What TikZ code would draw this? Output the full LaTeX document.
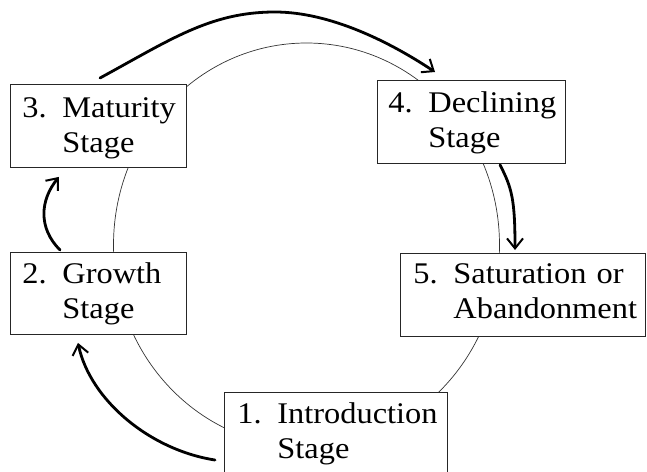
\documentclass[tikz,border=0pt]{standalone}
\usepackage{fontspec}
\setmainfont{Liberation Serif}[FakeStretch=1.08]
\usetikzlibrary{arrows.meta,calc}

\tikzset{
  stagebox/.style={draw=black!85, line width=0.9pt, fill=white, anchor=north west,
    inner xsep=12pt, inner ysep=0pt, align=left,
    text height=32pt, text depth=51pt, minimum height=83pt,
    font=\fontsize{30}{35}\selectfont},
  flow/.style={line width=2.8pt, line cap=round,
    -{Straight Barb[length=10pt,width=16pt,line width=2pt]}},
  cycleline/.style={draw=black!80, line width=0.7pt}
}
% number in a fixed-width slot, second line hangs under the word
\newcommand{\stagetext}[3]{\makebox[40pt][l]{#1}\mbox{#2}\\\hspace*{40pt}\mbox{#3}}

\begin{document}
\begin{tikzpicture}[x=1pt,y=-1pt]
  \useasboundingbox (0,0) rectangle (647,471);
  \begin{scope}
  \clip (0,0) rectangle (647,471);

  % the cycle behind the stages
  \draw[cycleline] (306.5,245) ellipse [x radius=193, y radius=202];

  % stage boxes
  \node[stagebox, text width=152pt, text height=33pt, text depth=50pt] (m3) at (10,84)
    {\stagetext{3.}{Maturity}{Stage}};
  \node[stagebox, text width=166pt, inner xsep=11pt] (m4) at (377,80)
    {\stagetext{4.}{Declining}{Stage}};
  \node[stagebox, text width=152pt, text height=31pt, text depth=51pt, minimum height=82pt] (m2) at (10,252)
    {\stagetext{2.}{Growth}{Stage}};
  \node[stagebox, text width=219pt, inner xsep=13pt, text height=30pt, text depth=53pt] (m5) at (400,253)
    {\stagetext{5.}{Saturation or}{Abandonment}};
  \node[stagebox, text width=197pt, inner xsep=13pt, text height=31pt, text depth=52pt] (m1) at (224,392)
    {\stagetext{1.}{Introduction}{Stage}};

  % arrows between the stages
  \draw[flow] ($(m1.north west)+(-9,68)$) .. controls (150,450) and (90,400) .. ($(m2.south west)+(68,8)$);
  \draw[flow] ($(m2.north west)+(50,-2)$) .. controls (38,228) and (40,200) .. ($(m3.south west)+(49,9)$);
  \draw[flow] ($(m3.north west)+(90,-6)$) .. controls (170,40) and (210,12) .. (275,12)
    .. controls (330,12) and (390,42) .. ($(m4.north west)+(58,-8)$);
  \draw[flow] ($(m4.south west)+(123,1)$) .. controls (512,188) and (515,200) .. ($(m5.north west)+(115,-3)$);
  \end{scope}
\end{tikzpicture}
\end{document}
